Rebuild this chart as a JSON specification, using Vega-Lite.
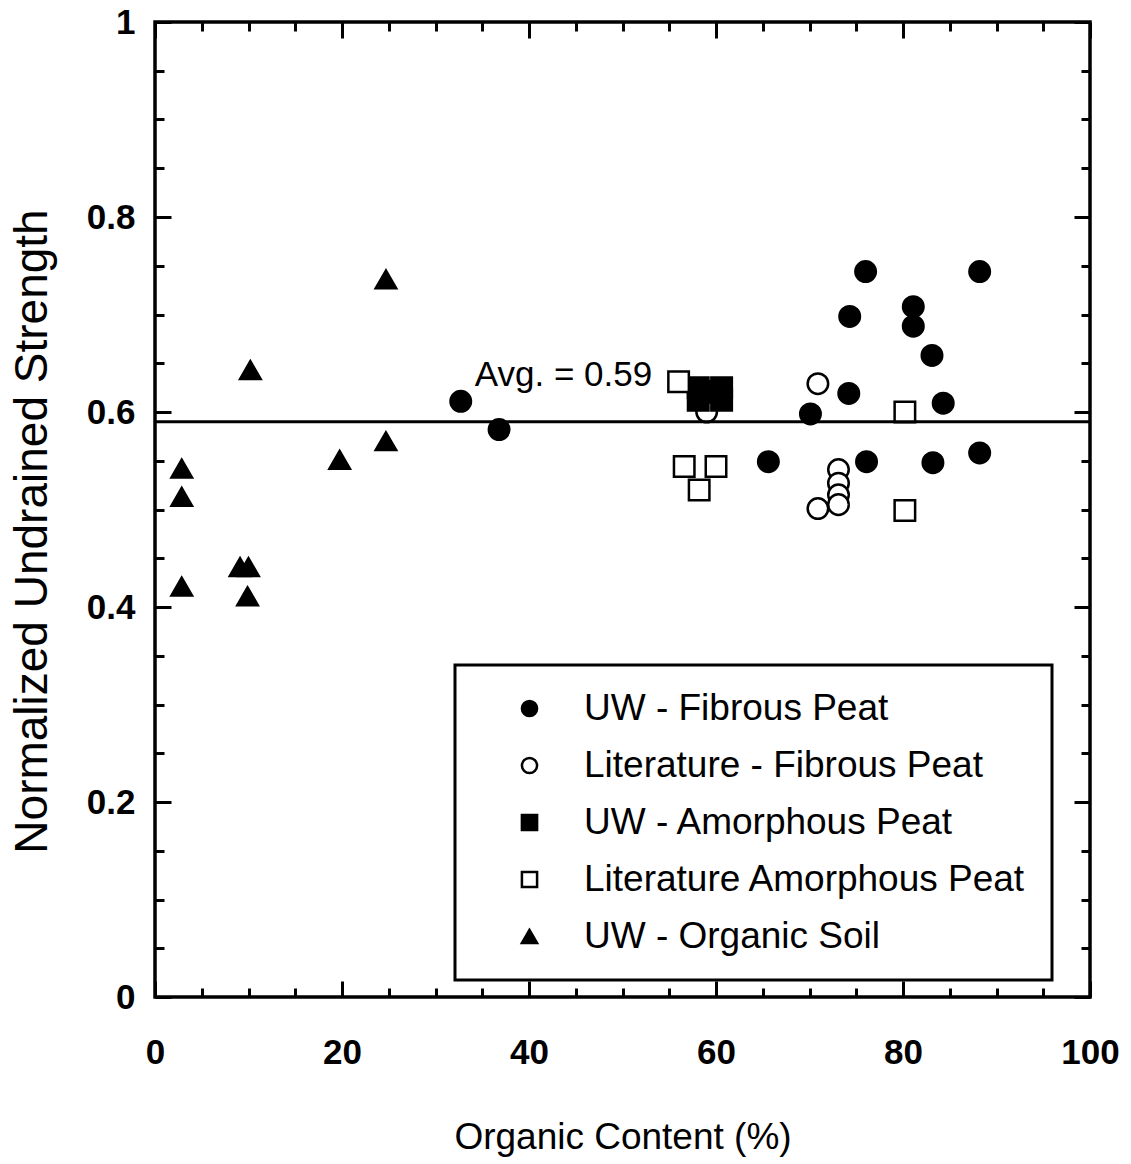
{
  "$schema": "https://vega.github.io/schema/vega-lite/v6.json",
  "width": 935,
  "height": 975,
  "autosize": "none",
  "padding": {"left": 155, "top": 22, "right": 41, "bottom": 167},
  "background": "white",
  "config": {
    "font": "Liberation Sans",
    "view": {"stroke": "black", "strokeWidth": 3.5},
    "legend": {
      "orient": "none",
      "legendX": 300,
      "legendY": 643,
      "fillColor": "white",
      "strokeColor": "black",
      "strokeWidth": 3,
      "padding": 25,
      "symbolSize": 230,
      "symbolStrokeWidth": 2.5,
      "symbolOffset": 31,
      "labelOffset": 36,
      "labelFontSize": 37,
      "labelFont": "Liberation Sans",
      "labelColor": "black",
      "labelLimit": 800,
      "rowPadding": 19,
      "labelBaseline": "middle"
    }
  },
  "data": {
    "values": [
      {"x": 32.7, "y": 0.611, "series": "UW - Fibrous Peat"},
      {"x": 36.8, "y": 0.582, "series": "UW - Fibrous Peat"},
      {"x": 76.0, "y": 0.744, "series": "UW - Fibrous Peat"},
      {"x": 88.2, "y": 0.744, "series": "UW - Fibrous Peat"},
      {"x": 74.3, "y": 0.698, "series": "UW - Fibrous Peat"},
      {"x": 81.1, "y": 0.708, "series": "UW - Fibrous Peat"},
      {"x": 81.1, "y": 0.688, "series": "UW - Fibrous Peat"},
      {"x": 83.1, "y": 0.658, "series": "UW - Fibrous Peat"},
      {"x": 74.2, "y": 0.619, "series": "UW - Fibrous Peat"},
      {"x": 70.1, "y": 0.598, "series": "UW - Fibrous Peat"},
      {"x": 84.3, "y": 0.609, "series": "UW - Fibrous Peat"},
      {"x": 65.6, "y": 0.549, "series": "UW - Fibrous Peat"},
      {"x": 76.1, "y": 0.549, "series": "UW - Fibrous Peat"},
      {"x": 83.2, "y": 0.548, "series": "UW - Fibrous Peat"},
      {"x": 88.2, "y": 0.558, "series": "UW - Fibrous Peat"},
      {"x": 70.9, "y": 0.629, "series": "Literature - Fibrous Peat"},
      {"x": 73.1, "y": 0.541, "series": "Literature - Fibrous Peat"},
      {"x": 73.1, "y": 0.527, "series": "Literature - Fibrous Peat"},
      {"x": 73.1, "y": 0.515, "series": "Literature - Fibrous Peat"},
      {"x": 73.1, "y": 0.505, "series": "Literature - Fibrous Peat"},
      {"x": 70.9, "y": 0.501, "series": "Literature - Fibrous Peat"},
      {"x": 59.0, "y": 0.600, "series": "Literature - Fibrous Peat"},
      {"x": 58.1, "y": 0.625, "series": "UW - Amorphous Peat"},
      {"x": 60.6, "y": 0.625, "series": "UW - Amorphous Peat"},
      {"x": 58.1, "y": 0.612, "series": "UW - Amorphous Peat"},
      {"x": 60.6, "y": 0.612, "series": "UW - Amorphous Peat"},
      {"x": 59.3, "y": 0.621, "series": "UW - Amorphous Peat"},
      {"x": 56.0, "y": 0.631, "series": "Literature Amorphous Peat"},
      {"x": 80.2, "y": 0.600, "series": "Literature Amorphous Peat"},
      {"x": 80.2, "y": 0.499, "series": "Literature Amorphous Peat"},
      {"x": 56.6, "y": 0.544, "series": "Literature Amorphous Peat"},
      {"x": 60.0, "y": 0.544, "series": "Literature Amorphous Peat"},
      {"x": 58.2, "y": 0.520, "series": "Literature Amorphous Peat"},
      {"x": 2.86, "y": 0.542, "series": "UW - Organic Soil"},
      {"x": 2.86, "y": 0.513, "series": "UW - Organic Soil"},
      {"x": 2.86, "y": 0.421, "series": "UW - Organic Soil"},
      {"x": 10.2, "y": 0.643, "series": "UW - Organic Soil"},
      {"x": 9.1, "y": 0.441, "series": "UW - Organic Soil"},
      {"x": 10.0, "y": 0.441, "series": "UW - Organic Soil"},
      {"x": 9.9, "y": 0.411, "series": "UW - Organic Soil"},
      {"x": 19.75, "y": 0.551, "series": "UW - Organic Soil"},
      {"x": 24.7, "y": 0.570, "series": "UW - Organic Soil"},
      {"x": 24.7, "y": 0.736, "series": "UW - Organic Soil"}
    ]
  },
  "resolve": {"axis": {"x": "independent", "y": "independent"}},
  "layer": [
    {
      "mark": {"type": "point", "filled": true, "strokeWidth": 2.5, "size": 420, "opacity": 1},
      "encoding": {
        "x": {
          "field": "x", "type": "quantitative",
          "scale": {"domain": [0, 100], "nice": false, "zero": false},
          "axis": {
            "orient": "bottom",
            "values": [0,5,10,15,20,25,30,35,40,45,50,55,60,65,70,75,80,85,90,95,100],
            "labelExpr": "datum.value % 20 == 0 ? datum.label : ''",
            "tickSize": {"condition": {"test": "datum.value % 20 == 0", "value": -16}, "value": -9},
            "tickWidth": 3, "tickColor": "black",
            "domain": false, "grid": false,
            "labelFont": "Liberation Sans", "labelFontSize": 35, "labelFontWeight": "bold", "labelColor": "black",
            "labelPadding": 54, "labelFlush": false, "labelOverlap": false,
            "title": "Organic Content (%)",
            "titleFont": "Liberation Sans", "titleFontSize": 37, "titleFontWeight": "normal", "titleColor": "black",
            "titlePadding": 42
          }
        },
        "y": {
          "field": "y", "type": "quantitative",
          "scale": {"domain": [0, 1], "nice": false, "zero": false},
          "axis": {
            "orient": "left",
            "values": [0,0.05,0.1,0.15,0.2,0.25,0.3,0.35,0.4,0.45,0.5,0.55,0.6,0.65,0.7,0.75,0.8,0.85,0.9,0.95,1],
            "labelExpr": "round(datum.value*100) % 20 == 0 ? (datum.value == 0 ? '0' : (datum.value == 1 ? '1' : format(datum.value, '.1f'))) : ''",
            "tickSize": {"condition": {"test": "round(datum.value*100) % 20 == 0", "value": -16}, "value": -9},
            "tickWidth": 3, "tickColor": "black",
            "domain": false, "grid": false,
            "labelFont": "Liberation Sans", "labelFontSize": 35, "labelFontWeight": "bold", "labelColor": "black",
            "labelPadding": 36, "labelFlush": false, "labelOverlap": false,
            "title": "Normalized Undrained Strength",
            "titleFont": "Liberation Sans", "titleFontSize": 46, "titleFontWeight": "normal", "titleColor": "black",
            "titlePadding": 30,
            "titleY": 509
          }
        },
        "shape": {
          "field": "series", "type": "nominal",
          "scale": {
            "domain": ["UW - Fibrous Peat", "Literature - Fibrous Peat", "UW - Amorphous Peat", "Literature Amorphous Peat", "UW - Organic Soil"],
            "range": ["circle", "circle", "square", "square", "triangle-up"]
          },
          "legend": {"title": null}
        },
        "fill": {
          "field": "series", "type": "nominal",
          "scale": {
            "domain": ["UW - Fibrous Peat", "Literature - Fibrous Peat", "UW - Amorphous Peat", "Literature Amorphous Peat", "UW - Organic Soil"],
            "range": ["black", "white", "black", "white", "black"]
          },
          "legend": {"title": null}
        },
        "stroke": {
          "field": "series", "type": "nominal",
          "scale": {
            "domain": ["UW - Fibrous Peat", "Literature - Fibrous Peat", "UW - Amorphous Peat", "Literature Amorphous Peat", "UW - Organic Soil"],
            "range": ["black", "black", "black", "black", "black"]
          },
          "legend": {"title": null}
        }
      }
    },
    {
      "data": {"values": [{"avg": 0.59}]},
      "mark": {"type": "rule", "color": "black", "strokeWidth": 3},
      "encoding": {
        "y": {"field": "avg", "type": "quantitative", "axis": null}
      }
    },
    {
      "data": {"values": [{"label": "Avg. = 0.59", "x": 34.2, "y": 0.638}]},
      "mark": {"type": "text", "align": "left", "baseline": "middle", "fontSize": 35, "font": "Liberation Sans", "color": "black"},
      "encoding": {
        "text": {"field": "label"},
        "x": {
          "field": "x", "type": "quantitative",
          "axis": {
            "orient": "top",
            "values": [0,5,10,15,20,25,30,35,40,45,50,55,60,65,70,75,80,85,90,95,100],
            "labels": false,
            "tickSize": {"condition": {"test": "datum.value % 20 == 0", "value": -16}, "value": -9},
            "tickWidth": 3, "tickColor": "black",
            "domain": false, "grid": false, "title": null
          }
        },
        "y": {
          "field": "y", "type": "quantitative",
          "axis": {
            "orient": "right",
            "values": [0,0.05,0.1,0.15,0.2,0.25,0.3,0.35,0.4,0.45,0.5,0.55,0.6,0.65,0.7,0.75,0.8,0.85,0.9,0.95,1],
            "labels": false,
            "tickSize": {"condition": {"test": "round(datum.value*100) % 20 == 0", "value": -16}, "value": -9},
            "tickWidth": 3, "tickColor": "black",
            "domain": false, "grid": false, "title": null
          }
        }
      }
    }
  ]
}
